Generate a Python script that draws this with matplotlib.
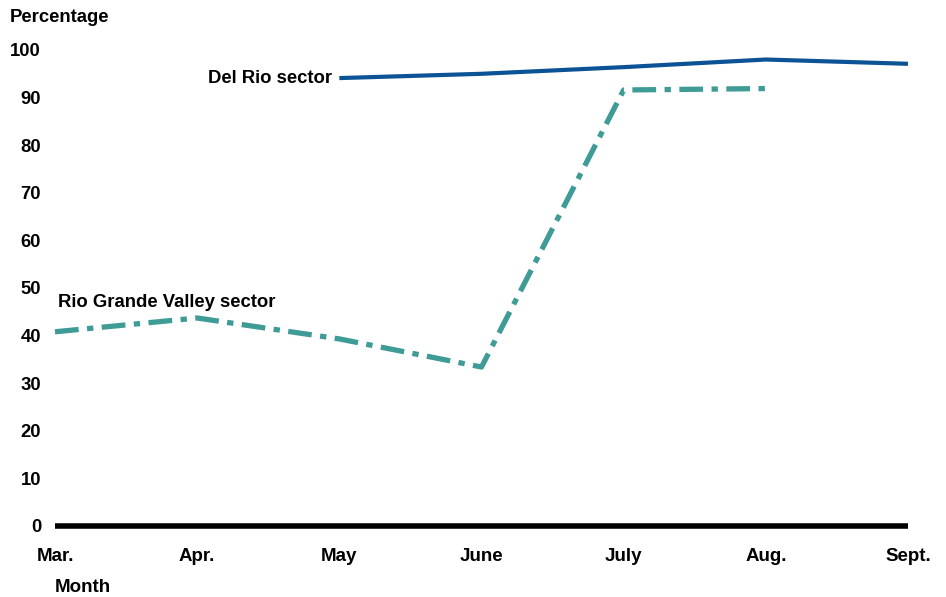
import matplotlib
matplotlib.use("Agg")
import matplotlib.pyplot as plt
from matplotlib import font_manager

months = ["Mar.", "Apr.", "May", "June", "July", "Aug.", "Sept."]
del_rio_months = ["May", "June", "July", "Aug.", "Sept."]
del_rio_values = [94.1, 95.0, 96.4, 98.0, 97.1]
rgv_months = ["Mar.", "Apr.", "May", "June", "July", "Aug."]
rgv_values = [40.8, 43.7, 39.3, 33.4, 91.6, 91.9]
yticks = [0, 10, 20, 30, 40, 50, 60, 70, 80, 90, 100]

names = {f.name for f in font_manager.fontManager.ttflist}
narrow = "Liberation Sans Narrow" if "Liberation Sans Narrow" in names else "Liberation Sans"
plt.rcParams["font.family"] = ["Liberation Sans", "DejaVu Sans"]

fig = plt.figure(figsize=(9.46, 5.97), dpi=100)
ax = fig.add_axes([55 / 946, (597 - 526) / 597, (908 - 55) / 946, (526 - 50) / 597])

xi = {m: i for i, m in enumerate(months)}
ax.plot([xi[m] for m in del_rio_months], del_rio_values, color="#0B5394", lw=3,
        solid_capstyle="butt", clip_on=False)
ax.plot([xi[m] for m in rgv_months], rgv_values, color="#3F9B95", lw=3.8,
        dashes=(4.5, 1.6, 1.2, 1.6), clip_on=False)

ax.set_xlim(0, len(months) - 1)
ax.set_ylim(0, 100)
for s in ["top", "right", "left"]:
    ax.spines[s].set_visible(False)
ax.spines["bottom"].set_linewidth(4)
ax.spines["bottom"].set_color("black")
ax.spines["bottom"].set_capstyle("butt")

fs = 13.3
ax.set_yticks(yticks)
ax.set_yticklabels([str(v) for v in yticks], fontsize=fs, fontweight="bold")
ax.tick_params(axis="y", length=0, pad=10)
ax.set_xticks(range(len(months)))
ax.set_xticklabels(months, fontsize=13.5, fontweight="bold", family=[narrow, "DejaVu Sans"])
ax.tick_params(axis="x", length=0, pad=16)

fig.text(10 / 946, 1 - 18 / 597, "Percentage", fontsize=fs, fontweight="bold",
         ha="left", va="center")
fig.text(55 / 946, 1 - 588 / 597, "Month", fontsize=13.5, fontweight="bold",
         ha="left", va="center", family=[narrow, "DejaVu Sans"])
ax.text(2 - 7 / 142, 94.1, "Del Rio sector", fontsize=fs, fontweight="bold",
        ha="right", va="center")
ax.text(0.02, 46.9, "Rio Grande Valley sector", fontsize=fs, fontweight="bold",
        ha="left", va="center")

fig.savefig("out.png", dpi=100)
